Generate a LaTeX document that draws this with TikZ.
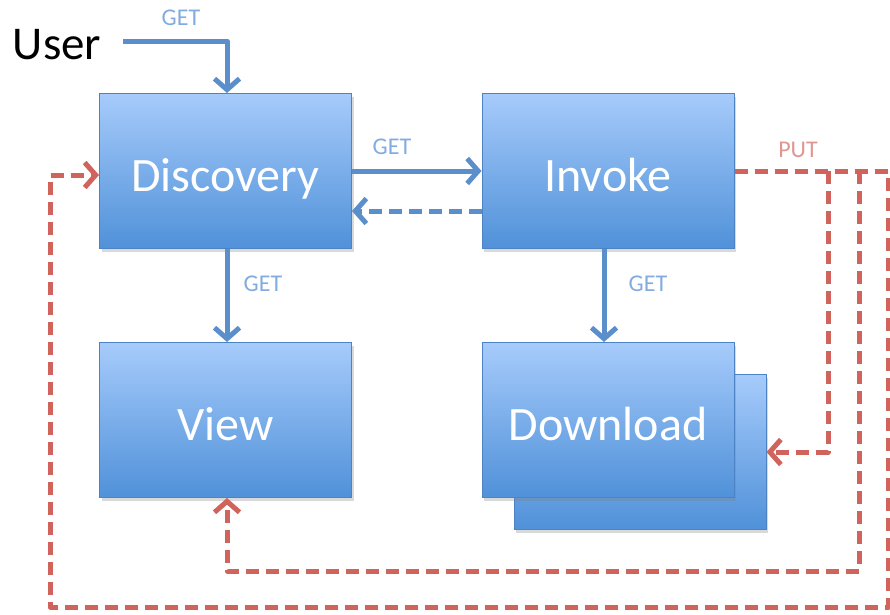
\documentclass[tikz,border=0pt]{standalone}
\usepackage{fontspec}
\setmainfont{Carlito}
\usetikzlibrary{arrows.meta,shadows}
\definecolor{boxtop}{RGB}{166,203,251}
\definecolor{boxbot}{RGB}{80,145,217}
\definecolor{boxline}{RGB}{77,130,196}
\definecolor{arrblue}{RGB}{90,143,204}
\definecolor{lblblue}{RGB}{130,172,224}
\definecolor{arrred}{RGB}{208,100,92}
\definecolor{lblred}{RGB}{224,150,145}
\begin{document}
\begin{tikzpicture}[x=1pt,y=-1pt,
  box/.style={draw=boxline, line width=1pt, top color=boxtop, bottom color=boxbot,
    minimum width=252pt, minimum height=155pt, inner sep=0pt, text=white,
    font=\fontsize{48}{50}\selectfont, text height=40pt, text depth=0pt,
    drop shadow={opacity=0.3, shadow xshift=2pt, shadow yshift=-3pt}},
  tip/.style={-{Straight Barb[length=11pt,width=25pt]}},
  bluearr/.style={draw=arrblue, line width=5pt, tip},
  bluedash/.style={bluearr, dash pattern=on 13pt off 7pt},
  redarr/.style={draw=arrred, line width=5pt, dash pattern=on 13pt off 7pt, line join=round},
  lbl/.style={text=lblblue, font=\fontsize{24}{26}\selectfont, inner sep=0pt},
  rlbl/.style={text=lblred, font=\fontsize{24}{26}\selectfont, inner sep=0pt},
  usr/.style={font=\fontsize{47}{49}\selectfont, inner sep=0pt}
]
\useasboundingbox (0,0) rectangle (890,614);
% boxes
\node[box] (back) at (640,452) {};
\node[box] (disc) at (225.5,171) {Discovery};
\node[box] (inv) at (608,171) {Invoke};
\node[box] (view) at (225.5,420) {View};
\node[box] (dl) at (608,420) {Download};
\node[usr] (user) at (57,45) {User};
% labels
\node[lbl] (g1) at (181,18) {GET};
\node[lbl] (g2) at (392,147) {GET};
\node[lbl] (g3) at (263,284) {GET};
\node[lbl] (g4) at (648,284) {GET};
\node[rlbl] (p1) at (798,150) {PUT};
% coordinates
\coordinate (ustart) at (123,41);
\coordinate (r1) at (828,171);
\coordinate (r2) at (859,171);
\coordinate (r3) at (888,171);
\coordinate (r1b) at (828,452);
\coordinate (r2b) at (859,571);
\coordinate (r2c) at (227,571);
\coordinate (r3b) at (888,607);
\coordinate (r3c) at (50,607);
\coordinate (r3d) at (50,175);
% blue connectors
\draw[bluearr, line join=round] (ustart) -| ([xshift=1.5pt]disc.north);
\draw[bluearr] (disc.east) -- (inv.west);
\draw[bluedash] ([yshift=-40pt]inv.west) -- ([yshift=-40pt]disc.east);
\draw[bluearr] ([xshift=1.5pt]disc.south) -- ([xshift=1.5pt]view.north);
\draw[bluearr] ([xshift=-4pt]inv.south) -- ([xshift=-4pt]dl.north);
% red connectors
\draw[redarr, tip] (inv.east) -- (r3) -- (r3b) -- (r3c) -- (r3d) -- ([yshift=-4pt]disc.west);
\draw[redarr, tip] (r1) -- (r1b) -- (back.east);
\draw[redarr, tip] (r2) -- (r2b) -- (r2c) -- ([xshift=1.5pt]view.south);
\end{tikzpicture}
\end{document}
